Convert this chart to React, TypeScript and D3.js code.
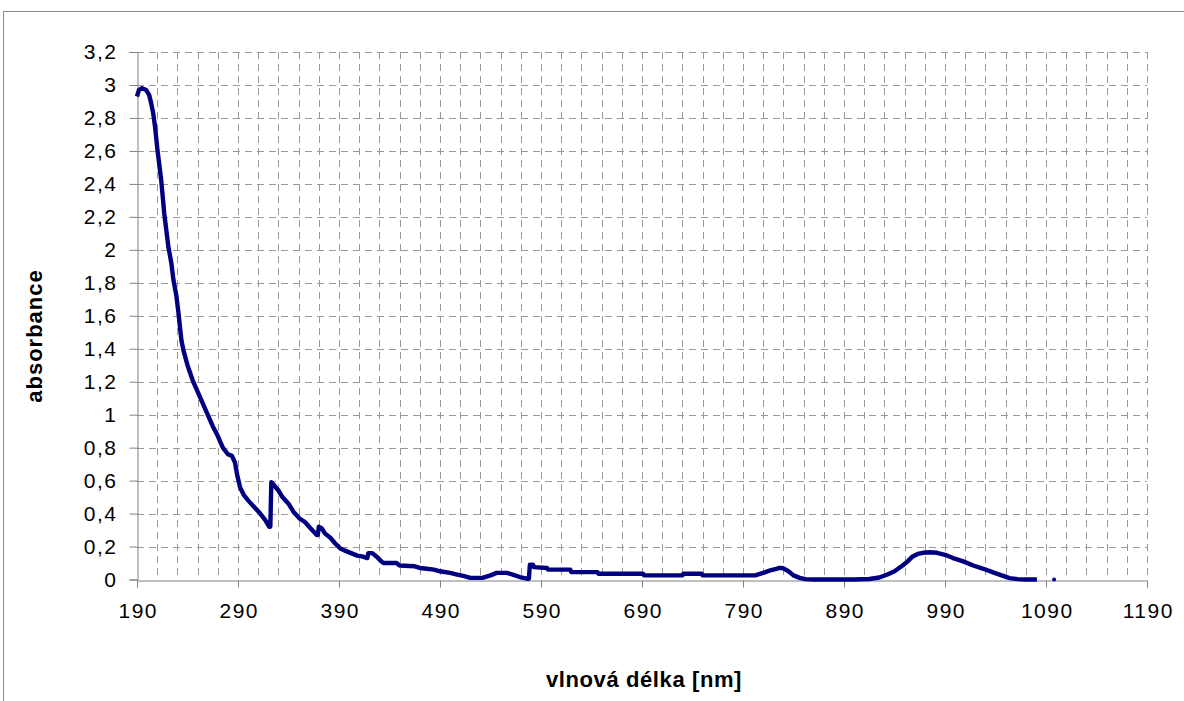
import React, { useEffect, useRef } from "react";
import * as d3 from "d3";

// wavelength [nm] and absorbance
const wavelengths = [
  190, 192, 195, 199, 202, 204, 206, 208, 210, 212, 214, 217, 219, 221, 224,
  226, 229, 231, 234, 236, 240, 245, 250, 255, 260, 265, 270, 275, 280, 284,
  287, 289, 292, 296, 300, 306, 312, 317, 321, 322, 323, 326, 330, 334, 340,
  345, 351, 356, 362, 368, 369, 370, 373, 376, 382, 386, 391, 396, 402, 408,
  413, 418, 419, 423, 427, 432, 434, 447, 450, 465, 470, 477, 484, 490, 500,
  507, 514, 520, 532, 540, 546, 556, 562, 569, 576, 578, 579, 582, 583, 596,
  597, 619, 620, 646, 647, 691, 692, 730, 731, 749, 750, 802, 810, 817, 823,
  826, 830, 835, 840, 846, 852, 860, 880, 900, 915, 925, 933, 940, 948, 953,
  958, 963, 968, 975, 982, 990, 998, 1008, 1018, 1028, 1037, 1046, 1054, 1062,
  1070, 1081,
];
const absorbance = [
  2.93, 2.97, 2.98, 2.97, 2.94, 2.89, 2.83, 2.74, 2.62, 2.52, 2.42, 2.22, 2.12,
  2.02, 1.92, 1.82, 1.72, 1.62, 1.45, 1.39, 1.3, 1.21, 1.14, 1.07, 1.0, 0.93,
  0.87, 0.8, 0.76, 0.75, 0.71, 0.64, 0.56, 0.51, 0.48, 0.44, 0.4, 0.36, 0.32,
  0.32, 0.59, 0.57, 0.54, 0.5, 0.46, 0.41, 0.37, 0.35, 0.31, 0.27, 0.27, 0.32,
  0.31, 0.28, 0.25, 0.22, 0.19, 0.175, 0.16, 0.145, 0.14, 0.13, 0.16, 0.16,
  0.14, 0.11, 0.1, 0.1, 0.085, 0.08, 0.07, 0.065, 0.06, 0.05, 0.04, 0.03, 0.02,
  0.01, 0.01, 0.025, 0.04, 0.04, 0.03, 0.015, 0.005, 0.005, 0.09, 0.09, 0.075,
  0.07, 0.06, 0.06, 0.045, 0.045, 0.035, 0.035, 0.025, 0.025, 0.035, 0.035,
  0.025, 0.025, 0.04, 0.055, 0.065, 0.07, 0.068, 0.05, 0.025, 0.01, 0.002, 0,
  0, 0, 0.003, 0.012, 0.03, 0.05, 0.085, 0.11, 0.14, 0.155, 0.162, 0.165,
  0.162, 0.15, 0.13, 0.11, 0.085, 0.065, 0.045, 0.025, 0.008, 0.002, 0, 0,
];
// lone point past the end of the trace
const extraPoint = { nm: 1098, abs: 0 };

const xTicks = [190, 290, 390, 490, 590, 690, 790, 890, 990, 1090, 1190];
const yTicks = [0, 0.2, 0.4, 0.6, 0.8, 1, 1.2, 1.4, 1.6, 1.8, 2, 2.2, 2.4, 2.6, 2.8, 3, 3.2];

const App: React.FC = () => {
  const svgRef = useRef<SVGSVGElement | null>(null);

  useEffect(() => {
    const width = 1184;
    const height = 701;
    const margin = { top: 52, right: 37, bottom: 122, left: 137 };
    const font = "'Liberation Sans', Arial, sans-serif";

    const svg = d3.select(svgRef.current);
    svg.selectAll("*").remove();
    svg.attr("width", width).attr("height", height);

    const x = d3
      .scaleLinear()
      .domain([190, 1190])
      .range([margin.left, width - margin.right]);
    const y = d3
      .scaleLinear()
      .domain([0, 3.2])
      .range([height - margin.bottom + 0.5, margin.top]);

    // outer chart frame
    svg
      .append("rect")
      .attr("x", 3.5)
      .attr("y", 11.5)
      .attr("width", 1300)
      .attr("height", 900)
      .attr("fill", "none")
      .attr("stroke", "#8a8a8a")
      .attr("stroke-width", 1);

    const grid = svg.append("g").attr("stroke", "#9a9a9a").attr("stroke-width", 1);

    // vertical gridlines every 20 nm
    d3.range(210, 1191, 20).forEach((v) => {
      grid
        .append("line")
        .attr("x1", Math.round(x(v)) + 0.5)
        .attr("x2", Math.round(x(v)) + 0.5)
        .attr("y1", y(3.2))
        .attr("y2", y(0))
        .attr("stroke-dasharray", "7,5");
    });
    // horizontal gridlines every 0.2
    yTicks.slice(1).forEach((v) => {
      grid
        .append("line")
        .attr("x1", x(190))
        .attr("x2", x(1190))
        .attr("y1", Math.round(y(v)) + 0.5)
        .attr("y2", Math.round(y(v)) + 0.5)
        .attr("stroke-dasharray", "7,5");
    });

    // axes
    const yAxis = d3
      .axisLeft(y)
      .tickValues(yTicks)
      .tickSize(8)
      .tickPadding(12)
      .tickFormat((d) => d3.format("~g")(d as number).replace(".", ","));
    const gy = svg
      .append("g")
      .attr("transform", `translate(${margin.left + 0.5},0)`)
      .call(yAxis);

    const xAxis = d3
      .axisBottom(x)
      .tickValues(xTicks)
      .tickSize(7)
      .tickPadding(16)
      .tickFormat((d) => `${d}`);
    const gx = svg
      .append("g")
      .attr("transform", `translate(0,${Math.round(y(0)) + 0.5})`)
      .call(xAxis);

    [gx, gy].forEach((g) => {
      g.select(".domain").attr("stroke", "#808080");
      g.selectAll(".tick line").attr("stroke", "#808080");
      g.selectAll(".tick text")
        .attr("fill", "#000")
        .style("font-family", font)
        .style("font-size", "21px")
        .style("letter-spacing", "1.5px");
    });
    gx.selectAll(".tick text").attr("dx", "0.75");

    // spectrum
    const points = wavelengths.map((nm, i) => ({ nm, abs: absorbance[i] }));
    const line = d3
      .line<{ nm: number; abs: number }>()
      .x((d) => x(d.nm))
      .y((d) => y(d.abs));

    svg
      .append("path")
      .attr("d", line(points))
      .attr("fill", "none")
      .attr("stroke", "#000080")
      .attr("stroke-width", 4.4)
      .attr("stroke-linejoin", "round");

    svg
      .append("circle")
      .attr("cx", x(extraPoint.nm))
      .attr("cy", y(extraPoint.abs))
      .attr("r", 2)
      .attr("fill", "#000080");

    // axis titles
    svg
      .append("text")
      .attr("transform", `translate(42,336) rotate(-90)`)
      .attr("text-anchor", "middle")
      .style("font-family", font)
      .style("font-size", "22px")
      .style("font-weight", "bold")
      .style("letter-spacing", "1px")
      .text("absorbance");

    svg
      .append("text")
      .attr("x", 644)
      .attr("y", 687)
      .attr("text-anchor", "middle")
      .style("font-family", font)
      .style("font-size", "22px")
      .style("font-weight", "bold")
      .style("letter-spacing", "0.6px")
      .text("vlnová délka [nm]");
  }, []);

  return (
    <div>
      <svg
        ref={svgRef}
        style={{ position: "absolute", left: 0, top: 0, display: "block" }}
      ></svg>
    </div>
  );
};

export default App;
